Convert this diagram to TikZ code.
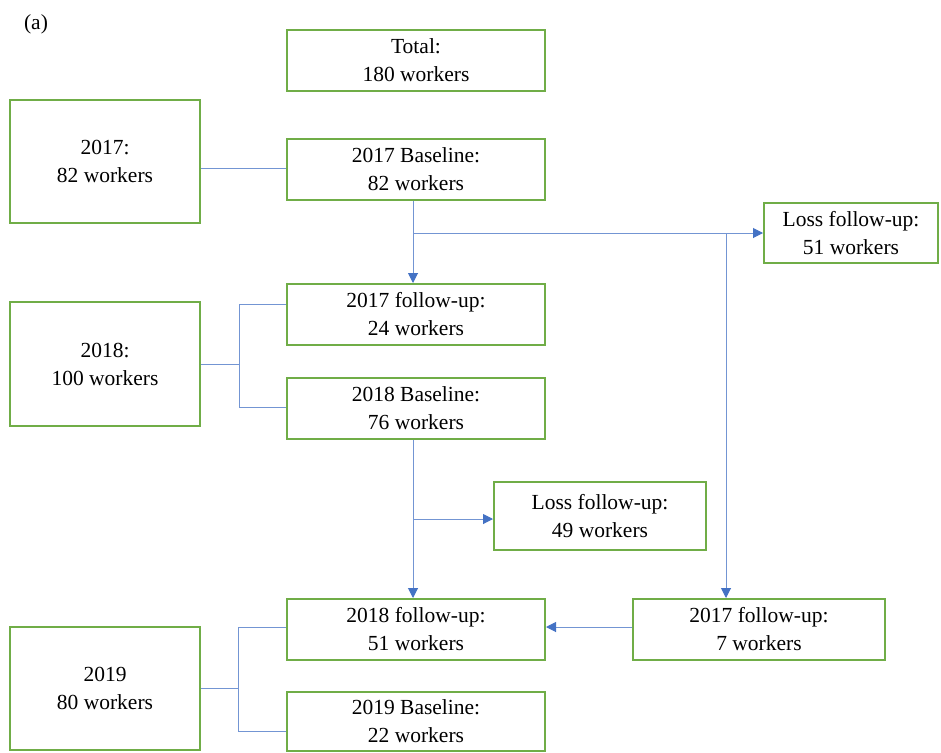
\documentclass[tikz,border=0pt]{standalone}
\usepackage{fontspec}
\setmainfont{Liberation Serif}
\usetikzlibrary{arrows.meta,calc}
\definecolor{boxgreen}{RGB}{112,173,71}
\definecolor{lineblue}{RGB}{68,114,196}
\begin{document}
\begin{tikzpicture}[x=1pt,y=-1pt,
  box/.style={draw=boxgreen,line width=2pt,fill=white,align=center,inner sep=0pt,
    font=\fontsize{21.5}{28}\selectfont},
  conn/.style={draw=lineblue!75,line width=1pt},
  arr/.style={conn,-{Triangle[length=10pt,width=10pt,color=lineblue]}}]
\useasboundingbox[fill=white] (0,0) rectangle (941,752);
\node[font=\fontsize{21.5}{24}\selectfont] (lbl) at (36,24) {(a)};
\node[box,minimum width=258pt,minimum height=61pt] (total) at (416,60.5) {Total:\\180 workers};
\node[box,minimum width=190pt,minimum height=123pt] (y17) at (105,161.5) {2017:\\82 workers};
\node[box,minimum width=258pt,minimum height=61pt] (b17) at (416,169.5) {2017 Baseline:\\82 workers};
\node[box,minimum width=174pt,minimum height=60pt] (loss1) at (851,233) {Loss follow-up:\\51 workers};
\node[box,minimum width=258pt,minimum height=61pt] (f17) at (416,314.5) {2017 follow-up:\\24 workers};
\node[box,minimum width=190pt,minimum height=124pt] (y18) at (105,364) {2018:\\100 workers};
\node[box,minimum width=258pt,minimum height=61pt] (b18) at (416,408.5) {2018 Baseline:\\76 workers};
\node[box,minimum width=212pt,minimum height=68pt] (loss2) at (600,516) {Loss follow-up:\\49 workers};
\node[box,minimum width=258pt,minimum height=61pt] (f18) at (416,629.5) {2018 follow-up:\\51 workers};
\node[box,minimum width=252pt,minimum height=61pt] (f17b) at (759,629.5) {2017 follow-up:\\7 workers};
\node[box,minimum width=190pt,minimum height=123pt] (y19) at (105,688.5) {2019\\80 workers};
\node[box,minimum width=258pt,minimum height=59pt] (b19) at (416,721.5) {2019 Baseline:\\22 workers};
% 2017
\draw[conn] (y17.east |- 0,168) -- (b17.west |- 0,168);
\coordinate (s1) at ($(b17.south)+(-3,0)$);
\coordinate (j1) at (s1 |- loss1.west);
\coordinate (j2) at (726,233);
\draw[arr] (s1) -- (s1 |- f17.north);
\draw[arr] (j1) -- (loss1.west);
\draw[arr] (j2) -- (j2 |- f17b.north);
% 2018
\coordinate (k18) at (239,364);
\draw[conn] (y18.east |- k18) -- (k18);
\draw[conn] (f17.west |- 0,304) -- (239,304) -- (239,407) -- (b18.west |- 0,407);
\coordinate (s2) at ($(b18.south)+(-3,0)$);
\coordinate (j3) at (s2 |- 0,519);
\draw[arr] (s2) -- (s2 |- f18.north);
\draw[arr] (j3) -- (loss2.west |- j3);
\draw[arr] (f17b.west |- 0,627) -- (f18.east |- 0,627);
% 2019
\coordinate (k19) at (238,688);
\draw[conn] (y19.east |- k19) -- (k19);
\draw[conn] (f18.west |- 0,627) -- (238,627) -- (238,731) -- (b19.west |- 0,731);
\end{tikzpicture}
\end{document}
